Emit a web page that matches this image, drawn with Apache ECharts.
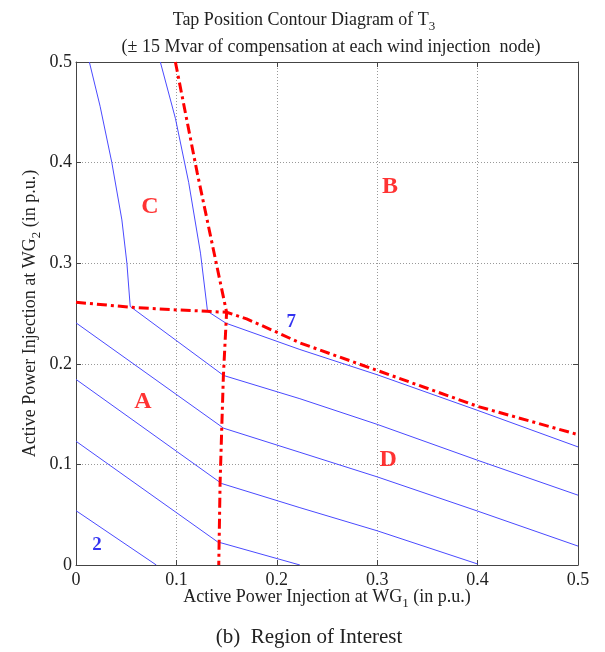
<!DOCTYPE html>
<html>
<head>
<meta charset="utf-8">
<script src="https://cdn.jsdelivr.net/npm/echarts@6/dist/echarts.min.js"></script>
<style>html,body{margin:0;padding:0;background:#fff}#c{width:605px;height:652px}</style>
</head>
<body>
<div id="c"></div>
<script>
// ---- data (x = P at WG1, y = P at WG2, p.u.) ----
var xTicks = [0, 0.1, 0.2, 0.3, 0.4, 0.5];
var yTicks = [0, 0.1, 0.2, 0.3, 0.4, 0.5];

var contour2 = [[0, 0.054], [0.080, 0]];
var contour3 = [[0, 0.123], [0.141, 0.023], [0.223, 0]];
var contour4 = [[0, 0.1845], [0.145, 0.081], [0.223, 0.057], [0.300, 0.034], [0.400, 0.001]];
var contour5 = [[0, 0.2407], [0.147, 0.136], [0.223, 0.112], [0.300, 0.0876], [0.400, 0.0536], [0.500, 0.0188]];
var contour6 = [[0.054, 0.257], [0.147, 0.1884], [0.223, 0.1653], [0.300, 0.1398], [0.400, 0.1041], [0.500, 0.0694]];
var contour7 = [[0.131, 0.2522], [0.1495, 0.2403], [0.223, 0.2142], [0.300, 0.1891], [0.400, 0.1537], [0.500, 0.1174]];
var contourCLeft = [[0.0133, 0.5], [0.024, 0.456], [0.0357, 0.400], [0.0457, 0.343], [0.0507, 0.300], [0.054, 0.257]];
var contourCRight = [[0.084, 0.5], [0.099, 0.444], [0.1123, 0.380], [0.124, 0.310], [0.131, 0.2522]];

var boundaryH = [[0, 0.2612], [0.054, 0.2562], [0.100, 0.2536], [0.130, 0.2522], [0.150, 0.2512], [0.170, 0.2446], [0.200, 0.2314], [0.223, 0.2208], [0.300, 0.1934], [0.400, 0.1577], [0.500, 0.1296]];
var boundaryV = [[0.099, 0.5], [0.1207, 0.390], [0.150, 0.2512], [0.1468, 0.188], [0.1452, 0.137], [0.1435, 0.081], [0.1422, 0]];

var regionLabels = [[0.0737, 0.356, 'C'], [0.3127, 0.3757, 'B'], [0.0667, 0.162, 'A'], [0.3108, 0.1044, 'D']];
var levelLabels = [[0.2145, 0.2410, '7'], [0.021, 0.020, '2']];

// ---- chart ----
var FONT = 'Liberation Serif';
var BLUE = '#4a4aff';
var RED = '#ff0000';
var chart = echarts.init(document.getElementById('c'), null, {renderer: 'canvas'});

function blue(d) {
  return {type: 'line', data: d, symbol: 'none', silent: true, z: 3,
    lineStyle: {color: BLUE, width: 1}};
}
function red(d) {
  return {type: 'line', data: d, symbol: 'none', silent: true, z: 4,
    lineStyle: {color: RED, width: 3, type: [10, 4, 3, 4]}};
}

var blueSets = [contour2, contour3, contour4, contour5, contour6, contour7, contourCLeft, contourCRight];
var series = blueSets.map(blue).concat([red(boundaryH), red(boundaryV)]);
series.push({
  type: 'scatter', data: regionLabels, symbolSize: 0, silent: true, z: 5,
  label: {show: true, position: 'inside', formatter: function (p) { return p.value[2]; },
    color: RED, fontFamily: FONT, fontWeight: 'bold', fontSize: 24}
});
series.push({
  type: 'scatter', data: levelLabels, symbolSize: 0, silent: true, z: 5,
  label: {show: true, position: 'inside', formatter: function (p) { return p.value[2]; },
    color: '#0000ee', fontFamily: FONT, fontWeight: 'bold', fontSize: 19}
});

var axisCommon = {
  type: 'value', min: 0, max: 0.5, interval: 0.1,
  axisLine: {show: true, onZero: false, lineStyle: {color: '#444', width: 1}},
  axisTick: {show: true, inside: true, length: 5, lineStyle: {color: '#444'}},
  splitLine: {show: true, lineStyle: {color: '#999', type: [1, 2], width: 1}},
  axisLabel: {color: '#222', fontFamily: FONT, fontSize: 18,
    formatter: function (v) { return String(+v.toFixed(2)); }}
};
var subRich = {s: {fontFamily: FONT, fontSize: 13, color: '#222', padding: [13, 0, 0, 0]}};

var option = {
  backgroundColor: '#fff',
  animation: false,
  title: [
    {text: 'Tap Position Contour Diagram of T{s|3}', left: 299, top: 2, textAlign: 'center',
      textStyle: {fontFamily: FONT, fontWeight: 'normal', fontSize: 18, color: '#222', rich: subRich}},
    {text: '(\u00b1 15 Mvar of compensation at each wind injection  node)', left: 326, top: 33, textAlign: 'center',
      textStyle: {fontFamily: FONT, fontWeight: 'normal', fontSize: 18, color: '#222'}},
    {text: '(b)  Region of Interest', left: 304, top: 622, textAlign: 'center',
      textStyle: {fontFamily: FONT, fontWeight: 'normal', fontSize: 21, color: '#222'}}
  ],
  grid: {left: 76, right: 27, top: 62, bottom: 87, show: false},
  xAxis: [
    Object.assign({}, axisCommon, {
      position: 'bottom',
      name: 'Active Power Injection at WG{s|1} (in p.u.)',
      nameLocation: 'middle', nameGap: 19, nameMoveOverlap: false,
      nameTextStyle: {fontFamily: FONT, fontSize: 18, color: '#222', rich: subRich},
      axisLabel: Object.assign({}, axisCommon.axisLabel, {margin: 6})
    }),
    Object.assign({}, axisCommon, {position: 'top', axisLabel: {show: false}, splitLine: {show: false}})
  ],
  yAxis: [
    Object.assign({}, axisCommon, {
      position: 'left',
      name: 'Active Power Injection at WG{s|2} (in p.u.)',
      nameLocation: 'middle', nameGap: 33, nameRotate: 90, nameMoveOverlap: false,
      nameTextStyle: {fontFamily: FONT, fontSize: 18, color: '#222', rich: subRich},
      axisLabel: Object.assign({}, axisCommon.axisLabel, {margin: 4})
    }),
    Object.assign({}, axisCommon, {position: 'right', axisLabel: {show: false}, splitLine: {show: false}})
  ],
  series: series
};
chart.setOption(option);
</script>
</body>
</html>
